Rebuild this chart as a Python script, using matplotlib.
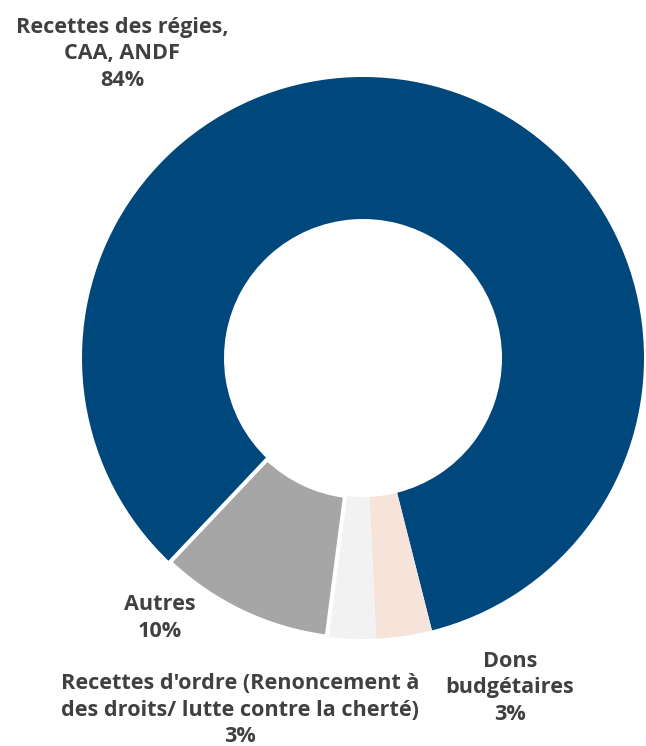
import matplotlib.pyplot as plt

# parts of the ring, clockwise from the lower left
labels = ["Recettes des régies,\nCAA, ANDF\n84%",
          "Dons\nbudgétaires\n3%",
          "Recettes d'ordre (Renoncement à\ndes droits/ lutte contre la cherté)\n3%",
          "Autres\n10%"]
values = [84, 3.2, 2.8, 10]
colors = ["#00477B", "#F6E4DA", "#F2F2F2", "#A6A6A6"]
label_pos = [(122, 54), (510, 688), (240, 710), (160, 618)]

W, H = 646, 746
fig = plt.figure(figsize=(W / 100, H / 100), dpi=100)
ax = fig.add_axes([0, 0, 1, 1])
ax.set_xlim(0, W)
ax.set_ylim(0, H)
ax.set_aspect("equal")
ax.axis("off")

wedges, _ = ax.pie(values, colors=colors, startangle=226.6, counterclock=False,
                   center=(363, H - 358), radius=281,
                   wedgeprops=dict(width=142, linewidth=0))
wedges[3].set_edgecolor("white")
wedges[3].set_linewidth(3)
ax.set_xlim(0, W)
ax.set_ylim(0, H)

for lab, (x, y) in zip(labels, label_pos):
    ax.text(x, H - y, lab, ha="center", va="center", fontsize=15.6,
            fontweight="bold", color="#404040", family="Open Sans",
            linespacing=1.32)

fig.savefig("out.png", dpi=100)
